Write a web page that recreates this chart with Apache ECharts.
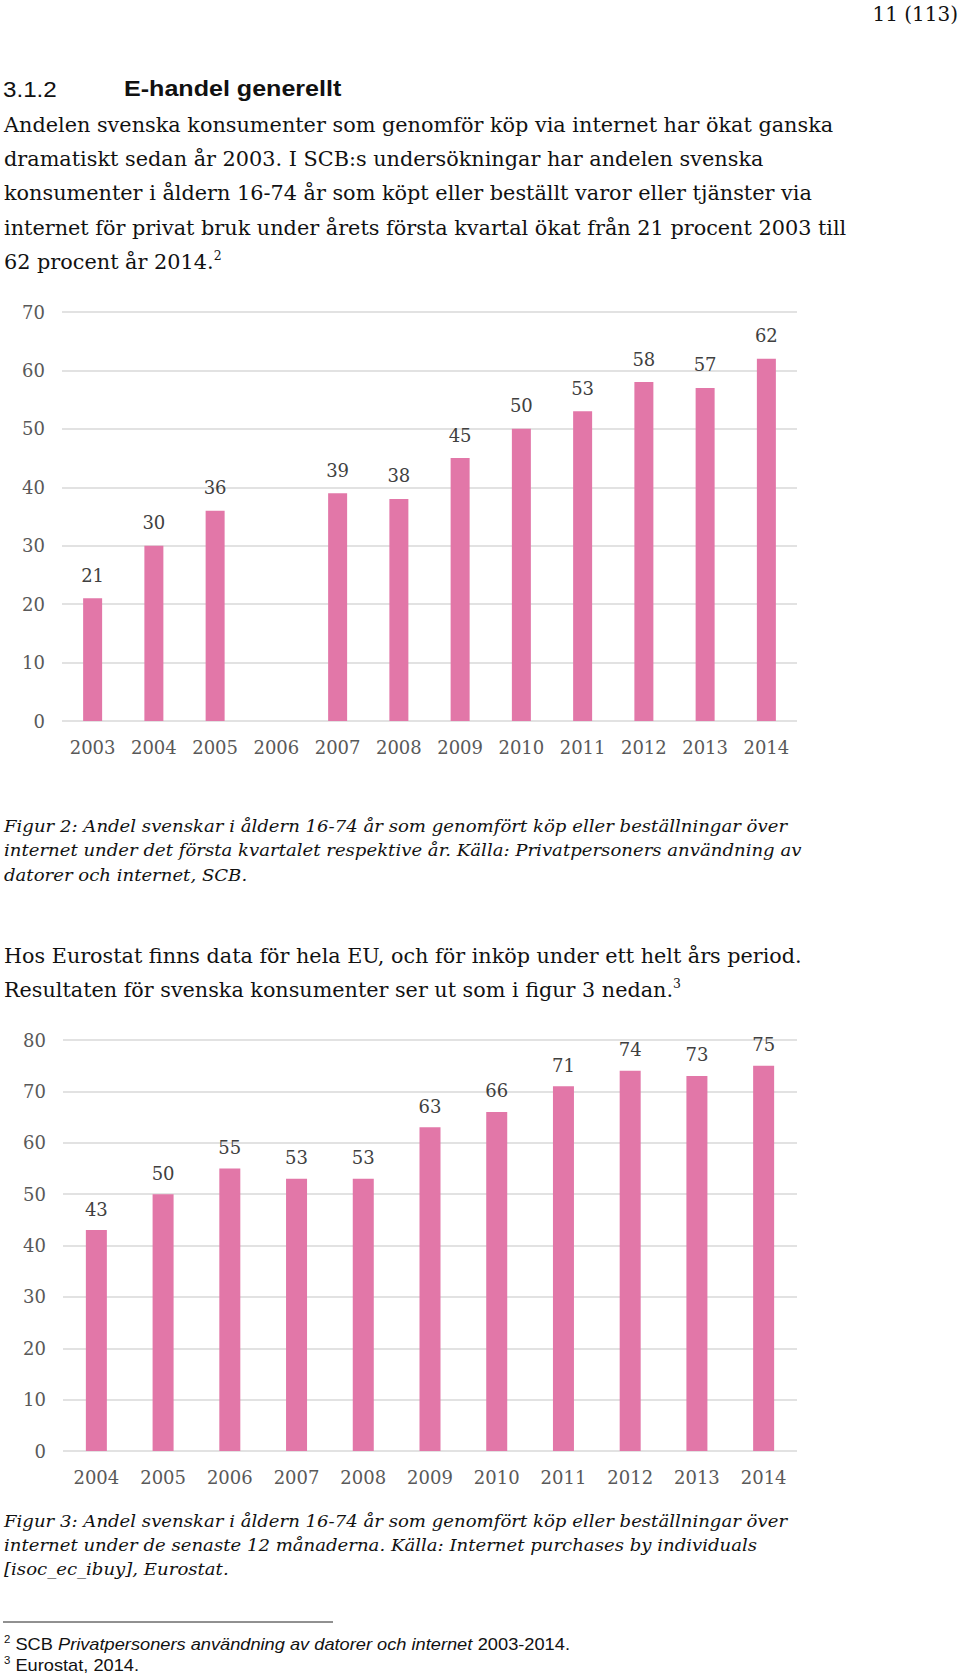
<!DOCTYPE html>
<html>
<head>
<meta charset="utf-8">
<script src="https://cdn.jsdelivr.net/npm/echarts@6/dist/echarts.min.js"></script>
<style>
html,body{margin:0;padding:0;background:#fff;}
#c{width:960px;height:1679px;}
</style>
</head>
<body>
<div id="c"></div>
<script>
// ---- data ----
const years1 = ['2003','2004','2005','2006','2007','2008','2009','2010','2011','2012','2013','2014'];
const values1 = [21, 30, 36, null, 39, 38, 45, 50, 53, 58, 57, 62];
const years2 = ['2004','2005','2006','2007','2008','2009','2010','2011','2012','2013','2014'];
const values2 = [43, 50, 55, 53, 53, 63, 66, 71, 74, 73, 75];

const pageNumber = '11 (113)';
const headingNum = '3.1.2';
const headingText = 'E-handel generellt';
const bodyLines = [
  'Andelen svenska konsumenter som genomför köp via internet har ökat ganska',
  'dramatiskt sedan år 2003. I SCB:s undersökningar har andelen svenska',
  'konsumenter i åldern 16-74 år som köpt eller beställt varor eller tjänster via',
  'internet för privat bruk under årets första kvartal ökat från 21 procent 2003 till',
  '62 procent år 2014.{sup|2}'
];
const caption2Lines = [
  'Figur 2: Andel svenskar i åldern 16-74 år som genomfört köp eller beställningar över',
  'internet under det första kvartalet respektive år. Källa: Privatpersoners användning av',
  'datorer och internet, SCB.'
];
const para2Lines = [
  'Hos Eurostat finns data för hela EU, och för inköp under ett helt års period.',
  'Resultaten för svenska konsumenter ser ut som i figur 3 nedan.{sup|3}'
];
const caption3Lines = [
  'Figur 3: Andel svenskar i åldern 16-74 år som genomfört köp eller beställningar över',
  'internet under de senaste 12 månaderna. Källa: Internet purchases by individuals',
  '[isoc_ec_ibuy], Eurostat.'
];
const footnoteLines = [
  '{sup|2} SCB {it|Privatpersoners användning av datorer och internet} 2003-2014.',
  '{sup|3} Eurostat, 2014.'
];

// ---- styles ----
const SERIF = '"DejaVu Serif", serif';
const SANS = '"Liberation Sans", Arial, sans-serif';
const BAR = '#E277A8';
const GRID = '#D9D9D9';
const AXISTXT = '#595959';

const graphics = [];
function addLines(lines, x, y0, dy, size, opts) {
  opts = opts || {};
  lines.forEach((t, i) => {
    graphics.push({
      type: 'text', x: x, y: y0 + i * dy, scaleX: opts.scaleX || 1,
      style: {
        text: t, fill: '#111', fontFamily: opts.family || SERIF, fontSize: size,
        fontStyle: opts.italic ? 'italic' : 'normal', fontWeight: opts.bold ? 'bold' : 'normal',
        textAlign: opts.align || 'left', textVerticalAlign: 'middle',
        lineHeight: size * 1.2,
        rich: {
          sup: { fontSize: Math.round(size * 0.6), fontFamily: opts.family || SERIF, verticalAlign: 'top', lineHeight: size * 1.2, fill: '#111' },
          it: { fontStyle: 'italic', fontSize: size, fontFamily: opts.family || SERIF, lineHeight: size * 1.2, fill: '#111' }
        }
      }
    });
  });
}

addLines([pageNumber], 958, 14, 0, 20, { align: 'right' });
addLines([headingNum], 3, 89, 0, 22, { family: SANS, scaleX: 1.1 });
addLines([headingText], 124, 89, 0, 22, { family: SANS, bold: true, scaleX: 1.14 });
addLines(bodyLines, 4, 125, 34.25, 20, { scaleX: 1.04 });
addLines(caption2Lines, 4, 826, 24.5, 17, { italic: true, scaleX: 1.065 });
addLines(para2Lines, 4, 956, 34, 20, { scaleX: 1.036 });
addLines(caption3Lines, 4, 1521, 24, 17, { italic: true, scaleX: 1.065 });
addLines(footnoteLines, 4, 1644, 21, 16, { family: SANS, scaleX: 1.14 });
graphics.push({ type: 'line', shape: { x1: 3, y1: 1622, x2: 333, y2: 1622 }, style: { stroke: '#222', lineWidth: 1 } });

function xAxis(idx, data) {
  return {
    type: 'category', gridIndex: idx, data: data,
    axisLine: { show: false }, axisTick: { show: false },
    axisLabel: { color: AXISTXT, fontFamily: SERIF, fontSize: 18, margin: 17, interval: 0 }
  };
}
function yAxis(idx, max) {
  return {
    type: 'value', gridIndex: idx, min: 0, max: max, interval: 10,
    axisLine: { show: false }, axisTick: { show: false },
    axisLabel: { color: AXISTXT, fontFamily: SERIF, fontSize: 18, margin: 17 },
    splitLine: { lineStyle: { color: GRID, width: 1.5 } }
  };
}
function barSeries(idx, data, w, dist) {
  return {
    type: 'bar', xAxisIndex: idx, yAxisIndex: idx, data: data, barWidth: w,
    itemStyle: { color: BAR },
    label: { show: true, position: 'top', distance: dist, color: '#404040', fontFamily: SERIF, fontSize: 18 },
    silent: true
  };
}

const chart = echarts.init(document.getElementById('c'), null, { renderer: 'svg', width: 960, height: 1679 });
chart.setOption({
  animation: false,
  backgroundColor: '#fff',
  grid: [
    { left: 62, right: 163, top: 312, bottom: 1679 - 721 },
    { left: 63, right: 163, top: 1040, bottom: 1679 - 1451 }
  ],
  xAxis: [xAxis(0, years1), xAxis(1, years2)],
  yAxis: [yAxis(0, 70), yAxis(1, 80)],
  series: [barSeries(0, values1, 19, 14), barSeries(1, values2, 21, 12)],
  graphic: graphics
});
</script>
</body>
</html>
